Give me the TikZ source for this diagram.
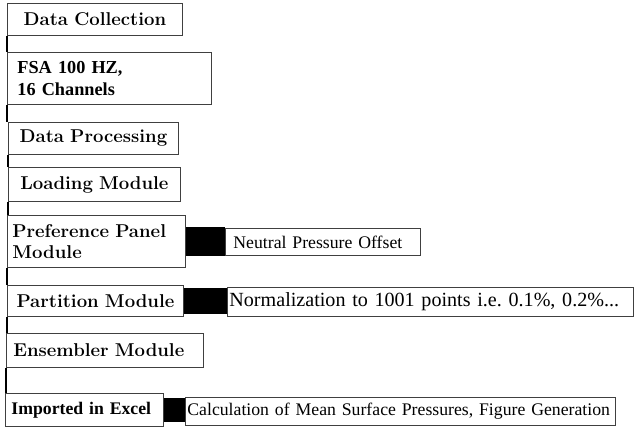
\documentclass[tikz,border=0pt]{standalone}
\usepackage{fontspec}
\newfontfamily\timesfont{Liberation Serif}
\usepackage{tikz}
\frenchspacing

\begin{document}
\begin{tikzpicture}[
  modbox/.style={rectangle,draw=black!75,line width=0.6pt,anchor=north west,inner ysep=0pt,
                 font=\fontsize{13.2}{15}\selectfont\bfseries},
  notebox/.style={rectangle,draw=black!75,line width=0.6pt,anchor=north west,inner ysep=0pt,
                  align=left,font=\timesfont\fontsize{12.6}{15}\selectfont},
  link/.style={line width=1.2pt}]
\useasboundingbox (0,0) rectangle (15.875,-10.675);
\node (collect)   at (0.175,-0.075) [modbox,align=center,inner xsep=0.1cm,text width=4.175cm,minimum height=0.8cm] {Data Collection};
\node (fsa)       at (0.175,-1.3)   [modbox,align=left,inner xsep=0.25cm,text width=4.6cm,minimum height=1.3cm,
                                     font=\timesfont\bfseries\fontsize{13}{15.9}\selectfont] {FSA 100 HZ,\\16 Channels};
\node (process)   at (0.2,-3.05)    [modbox,align=center,inner xsep=0.1cm,text width=4.05cm,minimum height=0.8cm] {Data Processing};
\node (loading)   at (0.2,-4.175)   [modbox,align=center,inner xsep=0.1cm,text width=4.1cm,minimum height=0.85cm] {Loading Module};
\node (pref)      at (0.175,-5.375) [modbox,align=left,inner xsep=0.125cm,text width=4.2cm,minimum height=1.3cm] {Preference Panel\\Module};
\node (partition) at (0.175,-7.125) [modbox,align=center,inner xsep=0.1cm,text width=4.2cm,minimum height=0.78cm] {Partition Module};
\node (ensemble)  at (0.15,-8.325)  [modbox,align=left,inner xsep=0.175cm,text width=4.575cm,minimum height=0.85cm] {Ensembler Module};
\node (excel)     at (0.125,-9.825) [modbox,align=left,inner xsep=0.15cm,text width=3.65cm,minimum height=0.83cm,
                                     font=\timesfont\bfseries\fontsize{12.6}{15.9}\selectfont] {\mbox{Imported in Excel}};
\node (neutral)   at (5.625,-5.7)   [notebox,inner xsep=0.2cm,text width=4.475cm,minimum height=0.68cm] {\mbox{Neutral Pressure Offset}};
\node (normal)    at (5.675,-7.175) [notebox,inner xsep=0.05cm,text width=10.05cm,minimum height=0.73cm,
                                     font=\timesfont\fontsize{14.3}{17}\selectfont] {\mbox{Normalization to 1001 points i.e. 0.1\%, 0.2\%...}};
\node (calc)      at (4.625,-9.925) [notebox,inner xsep=0.05cm,text width=10.65cm,minimum height=0.7cm] {\mbox{Calculation of Mean Surface Pressures, Figure Generation}};
% vertical links down the left side
\draw [link] (collect.south west)   -- (collect.south west |- fsa.north);
\draw [link] (fsa.south west)       -- (fsa.south west |- process.north);
\draw [link] (process.south west)   -- (process.south west |- loading.north);
\draw [link] (loading.south west)   -- (loading.south west |- pref.north);
\draw [link] (pref.south west)      -- (pref.south west |- partition.north);
\draw [link] (partition.south west) -- (partition.south west |- ensemble.north);
\draw [link] (ensemble.south west)  -- (ensemble.south west |- excel.north);
% black bars to the side notes
\draw [line width=0.73cm] (pref.east)      -- (pref.east -| neutral.west);
\draw [line width=0.65cm] (partition.east) -- (partition.east -| normal.west);
\draw [line width=0.58cm] (excel.east)     -- (excel.east -| calc.west);
\end{tikzpicture}
\end{document}
